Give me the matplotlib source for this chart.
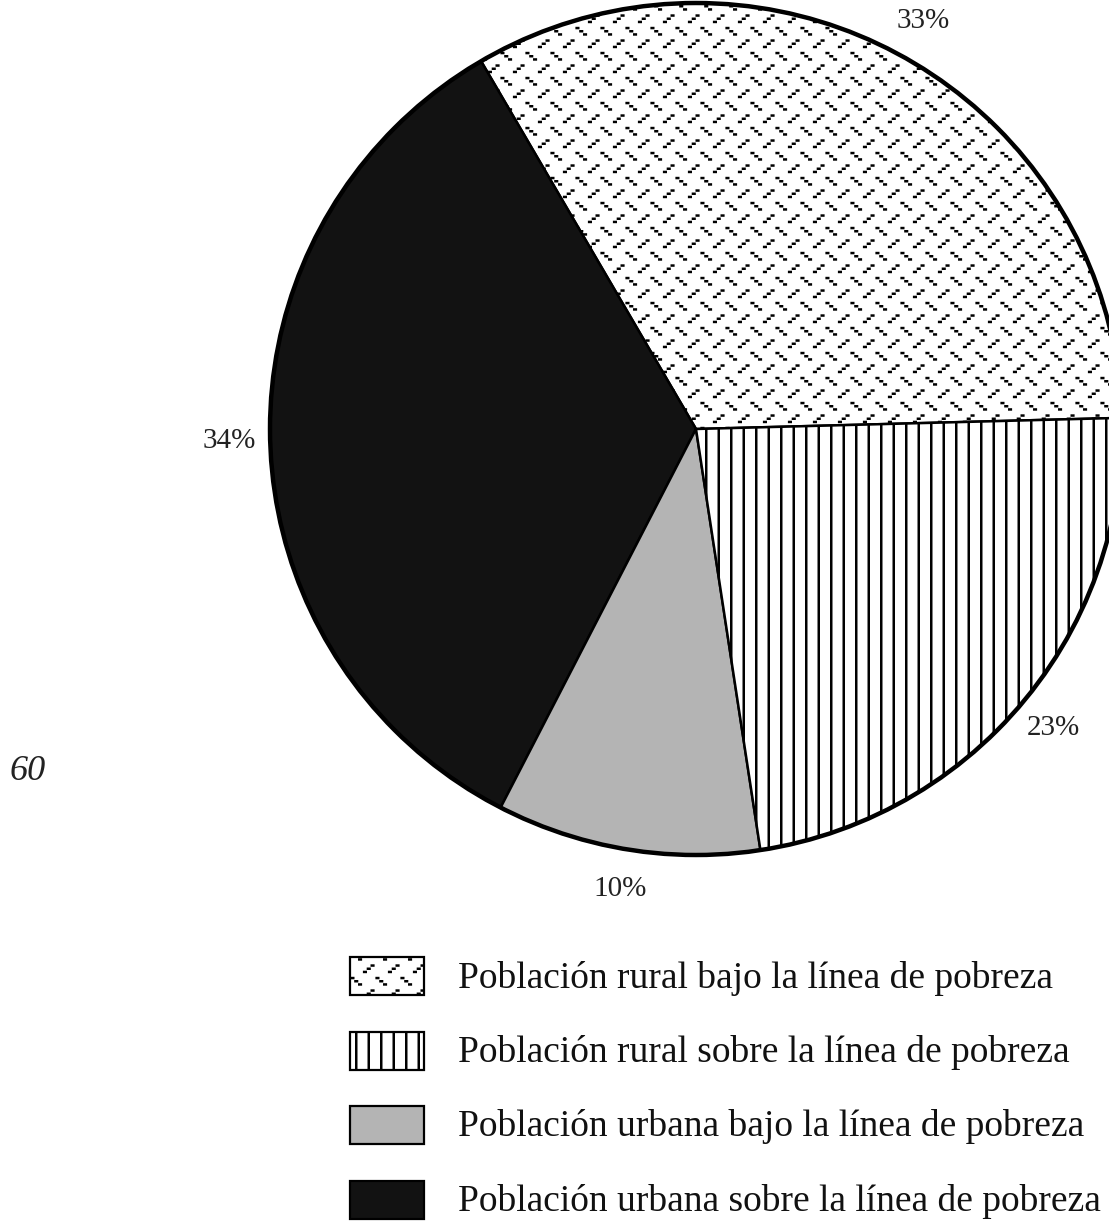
import numpy as np
import matplotlib
matplotlib.use("Agg")
import matplotlib.pyplot as plt
import matplotlib.hatch as mh
from matplotlib.patches import Rectangle, Circle

# ---------------- data ----------------
# pie order (counter-clockwise from 3 o'clock)
pie_labels = ["Población rural bajo la línea de pobreza",
              "Población urbana sobre la línea de pobreza",
              "Población urbana bajo la línea de pobreza",
              "Población rural sobre la línea de pobreza"]
pie_values = [33, 34, 10, 23]
# legend order
legend_labels = ["Población rural bajo la línea de pobreza",
                 "Población rural sobre la línea de pobreza",
                 "Población urbana bajo la línea de pobreza",
                 "Población urbana sobre la línea de pobreza"]
page_number = "60"

# ---------------- styles ----------------
styles = {
    "Población rural bajo la línea de pobreza": dict(facecolor="white", hatch="*"),
    "Población rural sobre la línea de pobreza": dict(facecolor="white", hatch="O"),
    "Población urbana bajo la línea de pobreza": dict(facecolor="#b4b4b4", hatch=None),
    "Población urbana sobre la línea de pobreza": dict(facecolor="#121212", hatch=None),
}


# custom hatch patterns: '*' -> dotted zig-zag dashes, 'O' -> vertical lines (8 per inch)
class DotDashes(mh.HatchPatternBase):
    def __init__(self, hatch, density):
        self.n_dash = hatch.count("*")
        self.n_vl = hatch.count("O")
        self.cols, self.rows = 4, 8
        self.vlines = 8
        nd = self.cols * self.rows * 3 * 2 if self.n_dash else 0
        nv = self.vlines * 2 if self.n_vl else 0
        self.num_vertices = nd + nv

    def set_vertices_and_codes(self, vertices, codes):
        k = 0
        if self.n_dash:
            for j in range(self.rows):
                y0 = 0.0625 + 0.125 * j
                sgn = 1 if j % 2 == 0 else -1
                off = 0.1875 if j % 2 == 0 else 0.0625
                for i in range(self.cols):
                    x0 = off + 0.25 * i
                    for t in (-1, 0, 1):
                        px = x0 + t * 0.038
                        py = y0 + sgn * t * 0.032
                        vertices[k] = (px - 0.008, py)
                        vertices[k + 1] = (px + 0.008, py)
                        codes[k] = mh.Path.MOVETO
                        codes[k + 1] = mh.Path.LINETO
                        k += 2
        if self.n_vl:
            for i in range(self.vlines):
                x = (i + 0.5) / self.vlines
                vertices[k] = (x, 0.0)
                vertices[k + 1] = (x, 1.0)
                codes[k] = mh.Path.MOVETO
                codes[k + 1] = mh.Path.LINETO
                k += 2


mh._hatch_types[:] = [t for t in mh._hatch_types
                      if t not in (mh.Stars, mh.LargeCircles)] + [DotDashes]

plt.rcParams["hatch.linewidth"] = 1.8
plt.rcParams["hatch.color"] = "black"
plt.rcParams["font.family"] = ["Liberation Serif", "DejaVu Serif"]

W, H = 1109, 1229
fig = plt.figure(figsize=(W / 100, H / 100), dpi=100)
ax = fig.add_axes([0, 0, 1, 1])

cx, cy, R = 696, H - 429, 426

wedges, texts = ax.pie(
    pie_values,
    labels=[f"{v}%" for v in pie_values],
    startangle=1.5,
    counterclock=True,
    center=(cx, cy),
    radius=R,
    labeldistance=1.095,
    frame=True,
    wedgeprops=dict(edgecolor="black", linewidth=1.8),
    textprops=dict(fontsize=21, ha="center", va="center", color="#222222"),
)
for w, lab in zip(wedges, pie_labels):
    st = styles[lab]
    w.set_facecolor(st["facecolor"])
    if st["hatch"]:
        w.set_hatch(st["hatch"])

ax.add_patch(Circle((cx, cy), R, fill=False, edgecolor="black", linewidth=3.2, zorder=5))

# legend
box_x, box_w, box_h = 350, 74, 38
top0, step = 957, 74.5
for i, lab in enumerate(legend_labels):
    st = styles[lab]
    ytop = top0 + i * step
    rect = Rectangle((box_x, H - ytop - box_h), box_w, box_h,
                     facecolor=st["facecolor"], edgecolor="black",
                     linewidth=1.6, hatch=st["hatch"])
    ax.add_patch(rect)
    ax.text(458, H - ytop - box_h / 2 - 2, lab, fontsize=27,
            ha="left", va="center", color="#111111")

ax.text(28, H - 772, page_number, fontsize=26, style="italic",
        ha="center", va="center", color="#222222")

ax.set_xlim(0, W)
ax.set_ylim(0, H)
ax.set_aspect("equal")
ax.axis("off")

fig.savefig("out.png", dpi=100)
